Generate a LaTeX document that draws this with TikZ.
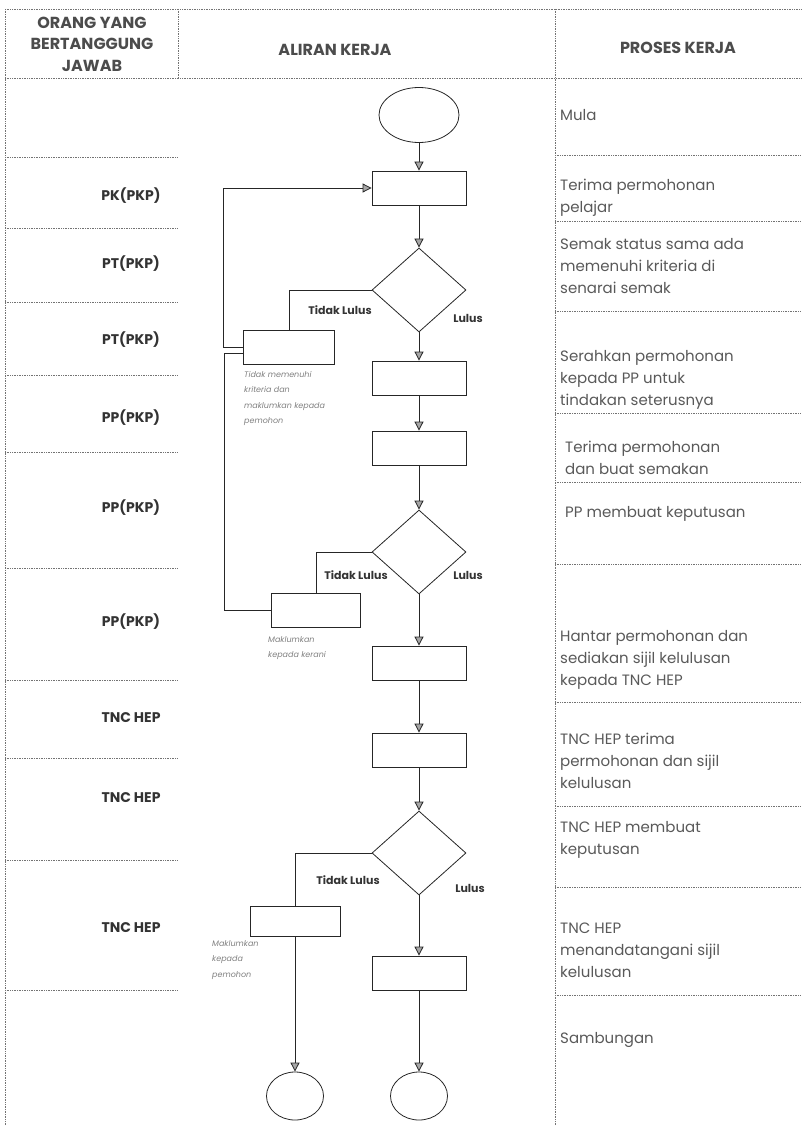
\documentclass[tikz,border=0pt]{standalone}
\usepackage{fontspec}
\setmainfont{Poppins}
\usetikzlibrary{arrows.meta,shapes.geometric}

\begin{document}
\begin{tikzpicture}[x=1pt,y=-1pt,
		garis/.style={densely dotted, line width=0.7pt, black!55},
		aliran/.style={line width=0.8pt, black!85},
		panah/.style={aliran, -{Triangle[width=9pt,length=9pt,fill=black!35]}},
		kotak/.style={draw, aliran, minimum width=94pt, minimum height=34pt, inner sep=0pt},
		semak/.style={draw, aliran, diamond, minimum width=94pt, minimum height=84pt, inner sep=0pt},
		mula/.style={draw, aliran, ellipse, minimum width=80pt, minimum height=55pt, inner sep=0pt},
		tamat/.style={draw, aliran, ellipse, minimum width=57pt, minimum height=48pt, inner sep=0pt},
		tajuk/.style={font=\fontsize{16}{21.5}\selectfont\bfseries, text=black!70, align=center},
		orang/.style={font=\fontsize{14}{17}\selectfont\bfseries, text=black!80},
		proses/.style={font=\fontsize{15}{22}\selectfont, text=black!65, align=left, anchor=west, inner sep=0pt},
		lulus/.style={font=\fontsize{11}{13}\selectfont\bfseries, text=black!80},
		nota/.style={font=\fontsize{8}{15.5}\selectfont\itshape, text=black!50, align=left, anchor=north west, inner sep=0pt}]
	\useasboundingbox (0,0) rectangle (802,1126);

	\draw[garis] (5,9) -- (802,9);
	\draw[garis] (5,78) -- (802,78);
	\draw[garis] (5,9) -- (5,1126);
	\draw[garis] (178,9) -- (178,78);
	\draw[garis] (555,9) -- (555,1126);
	\foreach \y in {157,228,302,375,452,568,680,758,860,990}
		\draw[garis] (5,\y) -- (178,\y);
	\foreach \y in {155,221,311,413,482,564,702,806,887,995}
		\draw[garis] (555,\y) -- (800,\y);

	\node[tajuk] (hdorang) at (92,44) {ORANG YANG\\BERTANGGUNG\\JAWAB};
	\node[tajuk] (hdaliran) at (335,50) {ALIRAN KERJA};
	\node[tajuk] (hdproses) at (678,48) {PROSES KERJA};

	\foreach \y/\teks in {196/PK(PKP), 264/PT(PKP), 340/PT(PKP), 418/PP(PKP), 508/PP(PKP), 622/PP(PKP), 718/TNC HEP, 798/TNC HEP, 928/TNC HEP}
		\node[orang] (orang\y) at (131,\y) {\teks};

	\node[proses] (p1) at (560,115) {Mula};
	\node[proses] (p2) at (560,198) {Terima permohonan\\pelajar};
	\node[proses] (p3) at (560,266) {Semak status sama ada\\memenuhi  kriteria di\\senarai semak};
	\node[proses] (p4) at (560,380) {Serahkan  permohonan\\kepada PP untuk\\tindakan seterusnya};
	\node[proses] (p5) at (565,458) {Terima permohonan\\dan buat semakan};
	\node[proses] (p6) at (565,514) {PP membuat keputusan};
	\node[proses] (p7) at (560,660) {Hantar permohonan dan\\sediakan sijil kelulusan\\kepada TNC HEP};
	\node[proses] (p8) at (560,761) {TNC HEP terima\\permohonan dan sijil\\kelulusan};
	\node[proses] (p9) at (560,840) {TNC HEP membuat\\keputusan};
	\node[proses] (p10) at (560,950) {TNC HEP\\menandatangani sijil\\kelulusan};
	\node[proses] (p11) at (560,1040) {Sambungan};

	\node[mula] (mula) at (419,115) {};
	\node[kotak] (terima) at (419,188) {};
	\node[semak] (semaksyarat) at (419,290) {};
	\node[kotak] (serah) at (419,378) {};
	\node[kotak] (buatsemak) at (419,448) {};
	\node[semak] (putuspp) at (419,552) {};
	\node[kotak] (hantar) at (419,663) {};
	\node[kotak] (tncterima) at (419,750) {};
	\node[semak] (putustnc) at (419,853) {};
	\node[kotak] (tandatangan) at (419,973) {};
	\node[tamat] (tamatkiri) at (295,1096) {};
	\node[tamat] (tamatkanan) at (419,1096) {};
	\node[kotak, minimum width=91pt] (tolak1) at (289,347) {};
	\node[kotak, minimum width=89pt] (tolak2) at (316,610) {};
	\node[kotak, minimum width=90pt, minimum height=30pt] (tolak3) at (295,921) {};

	\draw[panah] (mula) -- (terima);
	\draw[panah] (terima) -- (semaksyarat);
	\draw[panah] (semaksyarat) -- (serah);
	\draw[panah] (serah) -- (buatsemak);
	\draw[panah] (buatsemak) -- (putuspp);
	\draw[panah] (putuspp) -- (hantar);
	\draw[panah] (hantar) -- (tncterima);
	\draw[panah] (tncterima) -- (putustnc);
	\draw[panah] (putustnc) -- (tandatangan);
	\draw[panah] (tandatangan) -- (tamatkanan);
	\draw[panah] (tolak3) -- (tamatkiri);

	\draw[aliran] (semaksyarat.west) -| (tolak1.north);
	\draw[aliran] (putuspp.west) -| (tolak2.north);
	\draw[aliran] (putustnc.west) -| (tolak3.north);
	\draw[panah] (tolak1.west) -- ++(-20,0) |- (terima.west);
	\draw[aliran] (tolak2.west) -- ++(-47,0) |- ([yshift=-6pt]tolak1.west);

	\node[lulus] (tidak1) at (340,310) {Tidak Lulus};
	\node[lulus] (lulus1) at (468,318) {Lulus};
	\node[lulus] (tidak2) at (356,575) {Tidak Lulus};
	\node[lulus] (lulus2) at (468,575) {Lulus};
	\node[lulus] (tidak3) at (348,880) {Tidak Lulus};
	\node[lulus] (lulus3) at (470,888) {Lulus};

	\node[nota] (nota1) at (244,371) {Tidak memenuhi\\kriteria dan\\maklumkan kepada\\pemohon};
	\node[nota] (nota2) at (268,636) {Maklumkan\\kepada kerani};
	\node[nota] (nota3) at (212,940) {Maklumkan\\kepada\\pemohon};
\end{tikzpicture}
\end{document}
